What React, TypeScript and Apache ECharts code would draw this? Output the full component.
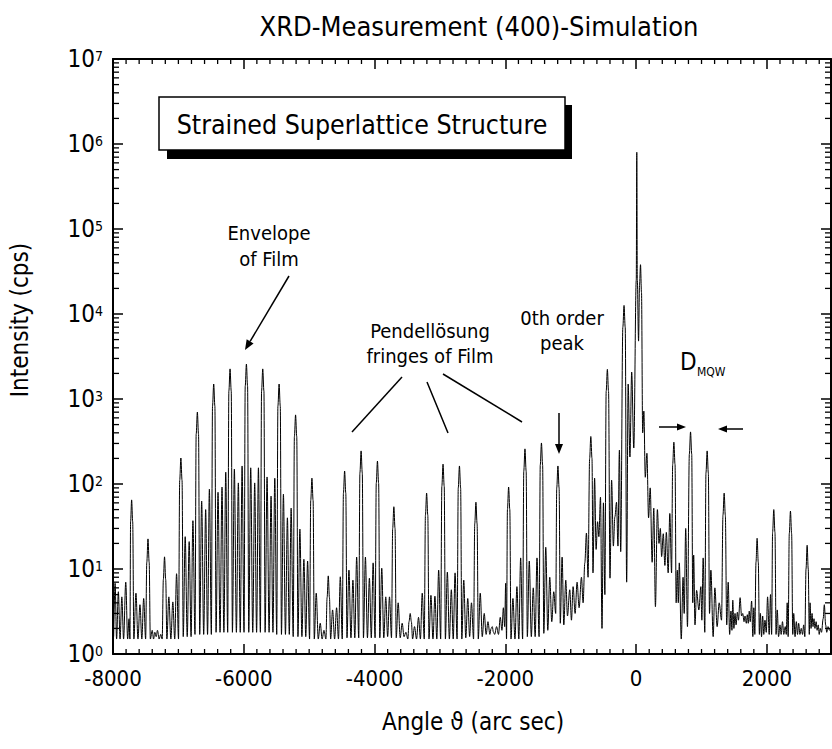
import React, { useEffect, useRef } from 'react';
import * as echarts from 'echarts';

const FONT = '"DejaVu Sans Condensed", "DejaVu Sans", sans-serif';

// Axis settings (values)
const X_MIN = -8000;
const X_MAX = 2980;
const X_MAJOR = 2000;
const xMinorTicks = [
  -7800, -7600, -7400, -7200, -7000, -6800, -6600, -6400, -6200,
  -5800, -5600, -5400, -5200, -5000, -4800, -4600, -4400, -4200,
  -3800, -3600, -3400, -3200, -3000, -2800, -2600, -2400, -2200,
  -1800, -1600, -1400, -1200, -1000, -800, -600, -400, -200,
  200, 400, 600, 800, 1000, 1200, 1400, 1600, 1800,
  2200, 2400, 2600, 2800,
];
const yDecades = [1, 10, 100, 1000, 10000, 100000, 1000000];
const yMinorMultipliers = [2, 3, 4, 5, 6, 7, 8, 9];

// Simulated XRD curve, [angle (arc sec), intensity (cps)]
const edgeLeft: [number, number][] = [
  [-7990, 1.6], [-7968, 6.8], [-7945, 1.5], [-7918, 5.4], [-7892, 1.5], [-7865, 4.7],
  [-7838, 1.5], [-7805, 7.0], [-7776, 1.5], [-7755, 2.6], [-7741, 1.5], [-7731, 36],
  [-7715, 65], [-7699, 36], [-7681, 1.5], [-7649, 5.2], [-7618, 1.5], [-7588, 3.8],
  [-7559, 1.5], [-7531, 4.5], [-7501, 1.5], [-7483, 12], [-7465, 22.6], [-7447, 12],
  [-7429, 1.5], [-7400, 1.9], [-7380, 1.5], [-7360, 1.8], [-7340, 1.6], [-7320, 1.9],
  [-7295, 1.5], [-7270, 1.7], [-7248, 1.5], [-7230, 7.5], [-7212, 13.9], [-7194, 7.5],
  [-7176, 1.5], [-7146, 4.7], [-7115, 1.5], [-7085, 4.1], [-7056, 1.5], [-7028, 8.8],
  [-6998, 1.5], [-6980, 110], [-6962, 202], [-6944, 110], [-6926, 1.6],
];

const envelopeFringes: [number, number][] = [
  [-6896, 24], [-6865, 1.6], [-6835, 21], [-6806, 1.6], [-6778, 37], [-6746, 1.7],
  [-6728, 385], [-6710, 700], [-6692, 385], [-6674, 1.7], [-6644, 63], [-6613, 1.7],
  [-6583, 50], [-6554, 1.7], [-6526, 87], [-6496, 1.7], [-6478, 825], [-6460, 1500],
  [-6442, 825], [-6424, 1.8], [-6394, 80], [-6363, 1.8], [-6333, 92], [-6304, 1.8],
  [-6276, 138], [-6246, 1.8], [-6228, 1240], [-6210, 2260], [-6192, 1240], [-6174, 1.8],
  [-6144, 150], [-6113, 1.8], [-6083, 103], [-6054, 1.8], [-6026, 163], [-5996, 1.8],
  [-5978, 1410], [-5960, 2570], [-5942, 1410], [-5924, 1.8], [-5894, 155], [-5863, 1.8],
  [-5833, 103], [-5804, 1.8], [-5776, 155], [-5746, 1.8], [-5728, 1240], [-5710, 2260],
  [-5692, 1240], [-5674, 1.8], [-5644, 121], [-5613, 1.8], [-5583, 72], [-5554, 1.8],
  [-5526, 117], [-5496, 1.7], [-5478, 825], [-5460, 1500], [-5442, 825], [-5424, 1.7],
  [-5394, 76], [-5363, 1.7], [-5333, 40], [-5304, 1.7], [-5276, 52], [-5244, 1.6],
  [-5226, 360], [-5208, 650], [-5190, 360], [-5172, 1.6], [-5142, 29.5], [-5111, 1.6],
  [-5081, 13], [-5052, 1.6], [-5024, 12.4], [-4994, 1.5], [-4976, 64], [-4958, 117],
  [-4940, 64], [-4922, 1.5],
];

const midFringes: [number, number][] = [
  [-4892, 5.2], [-4861, 1.5], [-4831, 2.3], [-4802, 1.5], [-4774, 1.9], [-4744, 1.5],
  [-4726, 4.6], [-4708, 8.3], [-4690, 4.6], [-4672, 1.5], [-4642, 3.3], [-4611, 1.5],
  [-4581, 3.5], [-4552, 1.5], [-4524, 8.1], [-4494, 1.5], [-4476, 78], [-4458, 142],
  [-4440, 78], [-4422, 1.55], [-4392, 9.7], [-4361, 1.55], [-4331, 7.4], [-4302, 1.55],
  [-4274, 13.8], [-4242, 1.55], [-4224, 135], [-4206, 245], [-4188, 135], [-4170, 1.55],
  [-4140, 13.8], [-4109, 1.55], [-4079, 7.8], [-4050, 1.55], [-4022, 11.8], [-3992, 1.55],
  [-3974, 102], [-3956, 186], [-3938, 102], [-3920, 1.55], [-3890, 10.2], [-3859, 1.55],
  [-3829, 4.7], [-3800, 1.6], [-3772, 4.7], [-3741, 1.55], [-3723, 30], [-3705, 54],
  [-3687, 30], [-3669, 1.55], [-3639, 4], [-3608, 1.55], [-3578, 2.3], [-3549, 1.6],
  [-3521, 1.8], [-3491, 1.5], [-3473, 2.4], [-3455, 3], [-3437, 2.4], [-3419, 1.5],
  [-3389, 2.1], [-3358, 1.5], [-3328, 2.7], [-3299, 1.5], [-3271, 5.2], [-3240, 1.5],
  [-3222, 43], [-3204, 78], [-3186, 43], [-3168, 1.5], [-3138, 4.9], [-3107, 1.5],
  [-3077, 4.8], [-3048, 1.5], [-3020, 9.7], [-2989, 1.5], [-2971, 94], [-2953, 171],
  [-2935, 94], [-2917, 1.5], [-2887, 9.2], [-2856, 1.5], [-2826, 5.7], [-2797, 1.5],
  [-2769, 9], [-2738, 1.5], [-2720, 90], [-2702, 163], [-2684, 90], [-2666, 1.5],
  [-2636, 7.4], [-2605, 1.55], [-2575, 4.5], [-2546, 1.6], [-2518, 4], [-2486, 1.5],
  [-2468, 34], [-2450, 61], [-2432, 34], [-2414, 1.5],
];

const nearZeroOrder: [number, number][] = [
  [-2384, 5.2], [-2353, 1.6], [-2323, 3], [-2294, 1.7], [-2266, 2.4], [-2236, 1.7],
  [-2218, 2], [-2200, 2.1], [-2182, 1.8], [-2164, 1.7], [-2134, 2.1], [-2105, 1.7],
  [-2078, 2.7], [-2052, 1.9], [-2030, 3.5], [-2010, 2.1], [-1995, 6.8], [-1982, 1.5],
  [-1968, 50], [-1950, 92], [-1932, 50], [-1914, 1.5], [-1884, 4.5], [-1853, 1.5],
  [-1823, 6.2], [-1794, 1.5], [-1766, 13.5], [-1736, 1.5], [-1718, 142], [-1700, 259],
  [-1682, 142], [-1664, 1.6], [-1634, 12.4], [-1603, 1.6], [-1573, 6], [-1544, 1.6],
  [-1516, 13.5], [-1484, 1.6], [-1466, 167], [-1448, 304], [-1430, 167], [-1412, 1.75],
  [-1382, 18], [-1351, 1.9], [-1321, 8], [-1290, 2.4], [-1260, 5.4], [-1230, 3],
  [-1214, 90], [-1196, 163], [-1178, 90], [-1160, 2.3], [-1132, 13.8], [-1106, 2.2],
  [-1076, 7.4], [-1050, 2.8], [-1015, 5.7], [-989, 2.5], [-964, 6.2], [-933, 3],
  [-903, 7], [-872, 3.5], [-836, 8], [-811, 4], [-785, 11.8], [-760, 26.5], [-735, 8],
];

const substrateRegion: [number, number][] = [
  [-711, 200], [-693, 362], [-675, 200], [-660, 9], [-635, 117], [-612, 17], [-590, 36],
  [-570, 24], [-545, 70], [-522, 2], [-500, 60], [-478, 5], [-458, 1230], [-440, 2230],
  [-422, 1230], [-400, 7.8], [-375, 111], [-348, 18.6], [-325, 41], [-300, 61], [-278, 18.6],
  [-256, 250], [-236, 16], [-203, 7000], [-185, 12600], [-167, 7000], [-145, 7],
  [-122, 1500], [-95, 208], [-68, 2070], [-36, 265], [2, 25000], [10, 800000],
  [18, 25000], [37, 4800], [52, 22000], [67, 38000], [82, 18000], [100, 400], [118, 720],
  [140, 120], [165, 230], [190, 40], [215, 90], [245, 12], [270, 52], [295, 3.6], [325, 50],
  [350, 20], [370, 30], [390, 14], [415, 26], [440, 11], [462, 27], [490, 9], [515, 45],
  [542, 9], [559, 170],
];

const rightSatellites: [number, number][] = [
  [577, 310], [595, 170], [612, 4], [630, 9.7], [645, 4], [660, 11.8], [690, 1.5], [718, 8],
  [735, 3], [758, 30], [785, 2.1], [814, 225], [832, 410], [850, 225], [866, 4], [880, 14.6],
  [900, 2.2], [925, 5.6], [959, 3.3], [990, 6.2], [1005, 2.5], [1025, 13.5], [1050, 1.8],
  [1068, 135], [1086, 245], [1104, 135], [1122, 3], [1143, 9.7], [1178, 1.6], [1204, 6],
  [1239, 2.1], [1270, 4], [1306, 2.5], [1328, 43], [1346, 78], [1364, 43], [1385, 2.2],
  [1408, 7], [1430, 1.7], [1450, 3.2], [1465, 1.9], [1478, 4.3], [1495, 2], [1512, 3],
  [1528, 2.2], [1548, 3.1], [1565, 2.5], [1590, 4.6], [1612, 2.8], [1630, 3], [1650, 2.4],
  [1665, 2.8], [1685, 2.3], [1700, 2.9], [1715, 2.3], [1730, 3.2], [1745, 2.4], [1766, 4.2],
  [1785, 1.6], [1800, 3.5], [1815, 1.7], [1833, 12], [1850, 23], [1868, 12], [1885, 1.7],
  [1900, 3], [1918, 1.6], [1935, 2.8], [1952, 1.7], [1970, 2.5], [1990, 1.8], [2010, 4.7],
  [2035, 1.7], [2055, 5], [2072, 1.7], [2087, 27], [2105, 50], [2123, 27], [2140, 1.7],
  [2158, 3.3], [2178, 1.6], [2200, 2.2], [2218, 1.7], [2238, 2.4], [2258, 1.7], [2280, 2.1],
  [2296, 1.7], [2310, 4], [2325, 1.6], [2342, 26], [2360, 48], [2378, 26], [2395, 1.7],
  [2410, 3], [2430, 1.6], [2450, 2.4], [2468, 1.7], [2485, 2.3], [2505, 1.7], [2525, 2],
  [2545, 1.7], [2562, 2.2], [2580, 1.6], [2598, 10], [2615, 19], [2632, 10], [2648, 1.7],
  [2660, 4], [2675, 2], [2690, 3], [2705, 2.1], [2720, 2.6], [2735, 2], [2752, 2.4],
  [2768, 1.9], [2785, 2.2], [2800, 1.7], [2815, 2], [2835, 1.8], [2860, 2.6], [2878, 3.8],
  [2898, 2.2], [2915, 1.8], [2935, 2.1], [2955, 1.9], [2975, 2],
];

function arrow(x1: number, y1: number, x2: number, y2: number, len = 10, half = 4): any[] {
  const a = Math.atan2(y2 - y1, x2 - x1);
  const bx = x2 - len * Math.cos(a);
  const by = y2 - len * Math.sin(a);
  const px = -Math.sin(a) * half;
  const py = Math.cos(a) * half;
  return [
    { type: 'line', shape: { x1, y1, x2: bx, y2: by }, style: { stroke: '#000', lineWidth: 1.5 } },
    { type: 'polygon', shape: { points: [[x2, y2], [bx + px, by + py], [bx - px, by - py]] }, style: { fill: '#000' } },
  ];
}

function txt(text: string, x: number, y: number, size: number, align = 'center', extra: any = {}) {
  return {
    type: 'text',
    x,
    y,
    ...extra,
    style: { text, fill: '#000', fontSize: size, fontFamily: FONT, align, verticalAlign: 'middle' },
  };
}

export default function App() {
  const ref = useRef<HTMLDivElement>(null);
  useEffect(() => {
    const chart = echarts.init(ref.current!, undefined, { renderer: 'svg' });
    const curve = [
      ...edgeLeft, ...envelopeFringes, ...midFringes,
      ...nearZeroOrder, ...substrateRegion, ...rightSatellites,
    ];
    const yMinorData: number[][] = [];
    yDecades.forEach((d) => yMinorMultipliers.forEach((m) => yMinorData.push([X_MIN, m * d])));
    const xMinorData = xMinorTicks.map((v) => [v, 1]);

    const axisLine = { show: true, onZero: false, lineStyle: { color: '#000', width: 2 } };
    const baseX = {
      type: 'value', min: X_MIN, max: X_MAX, interval: X_MAJOR,
      axisLine, splitLine: { show: false },
      axisTick: { inside: true, length: 10, lineStyle: { color: '#000', width: 1.5 } },
    };
    const baseY = {
      type: 'log', logBase: 10, min: 1, max: 10000000, interval: 1,
      axisLine, splitLine: { show: false },
      axisTick: { inside: true, length: 10, lineStyle: { color: '#000', width: 1.5 } },
    };

    const option: any = {
      animation: false,
      backgroundColor: '#fff',
      grid: { left: 113, right: 1, top: 59, bottom: 95, containLabel: false },
      xAxis: [
        {
          ...baseX, position: 'bottom',
          axisLabel: {
            color: '#000', fontSize: 22, fontFamily: FONT, margin: 13, showMaxLabel: false,
            formatter: (v: number) => String(v),
          },
        },
        { ...baseX, position: 'top', axisLabel: { show: false } },
      ],
      yAxis: [
        {
          ...baseY, position: 'left',
          axisLabel: {
            margin: 10,
            formatter: (v: number) => `{b|10}{e|${Math.round(Math.log10(v))}}`,
            rich: {
              b: { fontSize: 24, fontFamily: FONT, color: '#000', lineHeight: 20 },
              e: { fontSize: 14, fontFamily: FONT, color: '#000', lineHeight: 12, verticalAlign: 'top' },
            },
          },
        },
        { ...baseY, position: 'right', axisLabel: { show: false } },
      ],
      series: [
        {
          type: 'line',
          data: curve,
          showSymbol: false,
          symbol: 'none',
          smooth: 0.35,
          smoothMonotone: 'x',
          lineStyle: { color: '#000', width: 1 },
          z: 2,
        },
        {
          type: 'custom',
          silent: true,
          clip: false,
          z: 5,
          data: yMinorData,
          encode: { x: 0, y: 1 },
          renderItem: (_p: any, api: any) => {
            const v = api.value(1);
            const l = api.coord([X_MIN, v]);
            const r = api.coord([X_MAX, v]);
            return {
              type: 'group',
              children: [
                { type: 'line', shape: { x1: l[0], y1: l[1], x2: l[0] + 6, y2: l[1] }, style: { stroke: '#000', lineWidth: 1.3 } },
                { type: 'line', shape: { x1: r[0] - 6, y1: r[1], x2: r[0], y2: r[1] }, style: { stroke: '#000', lineWidth: 1.3 } },
              ],
            };
          },
        },
        {
          type: 'custom',
          silent: true,
          clip: false,
          z: 5,
          data: xMinorData,
          encode: { x: 0, y: 1 },
          renderItem: (_p: any, api: any) => {
            const v = api.value(0);
            const b = api.coord([v, 1]);
            const t = api.coord([v, 10000000]);
            return {
              type: 'group',
              children: [
                { type: 'line', shape: { x1: b[0], y1: b[1], x2: b[0], y2: b[1] - 5 }, style: { stroke: '#000', lineWidth: 1.3 } },
                { type: 'line', shape: { x1: t[0], y1: t[1], x2: t[0], y2: t[1] + 5 }, style: { stroke: '#000', lineWidth: 1.3 } },
              ],
            };
          },
        },
      ],
      graphic: [
        txt('XRD-Measurement (400)-Simulation', 479, 26, 27),
        txt('Angle \u03D1 (arc sec)', 473, 722, 24),
        txt('Intensity (cps)', 20, 320, 24, 'center', { rotation: Math.PI / 2 }),
        { type: 'rect', shape: { x: 167, y: 105, width: 405, height: 54 }, style: { fill: '#000' } },
        { type: 'rect', shape: { x: 159, y: 97, width: 406, height: 53 }, style: { fill: '#fff', stroke: '#000', lineWidth: 1.5 } },
        txt('Strained Superlattice Structure', 362, 124, 26.5),
        txt('Envelope', 269, 233, 20),
        txt('of Film', 269, 259, 20),
        ...arrow(289, 276, 245, 350),
        txt('Pendellösung', 430, 331, 20),
        txt('fringes of Film', 430, 356, 20),
        { type: 'line', shape: { x1: 402, y1: 377, x2: 352, y2: 432 }, style: { stroke: '#000', lineWidth: 1.5 } },
        { type: 'line', shape: { x1: 427, y1: 382, x2: 448, y2: 433 }, style: { stroke: '#000', lineWidth: 1.5 } },
        { type: 'line', shape: { x1: 443, y1: 374, x2: 522, y2: 422 }, style: { stroke: '#000', lineWidth: 1.5 } },
        txt('0th order', 562, 318, 20),
        txt('peak', 562, 343, 20),
        ...arrow(559, 413, 559, 454),
        txt('D', 680, 362, 24, 'left'),
        txt('MQW', 697, 372, 12, 'left'),
        ...arrow(659, 427, 686, 427, 9, 3.5),
        ...arrow(743, 429, 718, 429, 9, 3.5),
      ],
    };
    chart.setOption(option);
    return () => chart.dispose();
  }, []);
  return (
    <div
      ref={ref}
      style={{ position: 'absolute', left: 0, top: 0, width: 832, height: 749, background: '#fff' }}
    />
  );
}
